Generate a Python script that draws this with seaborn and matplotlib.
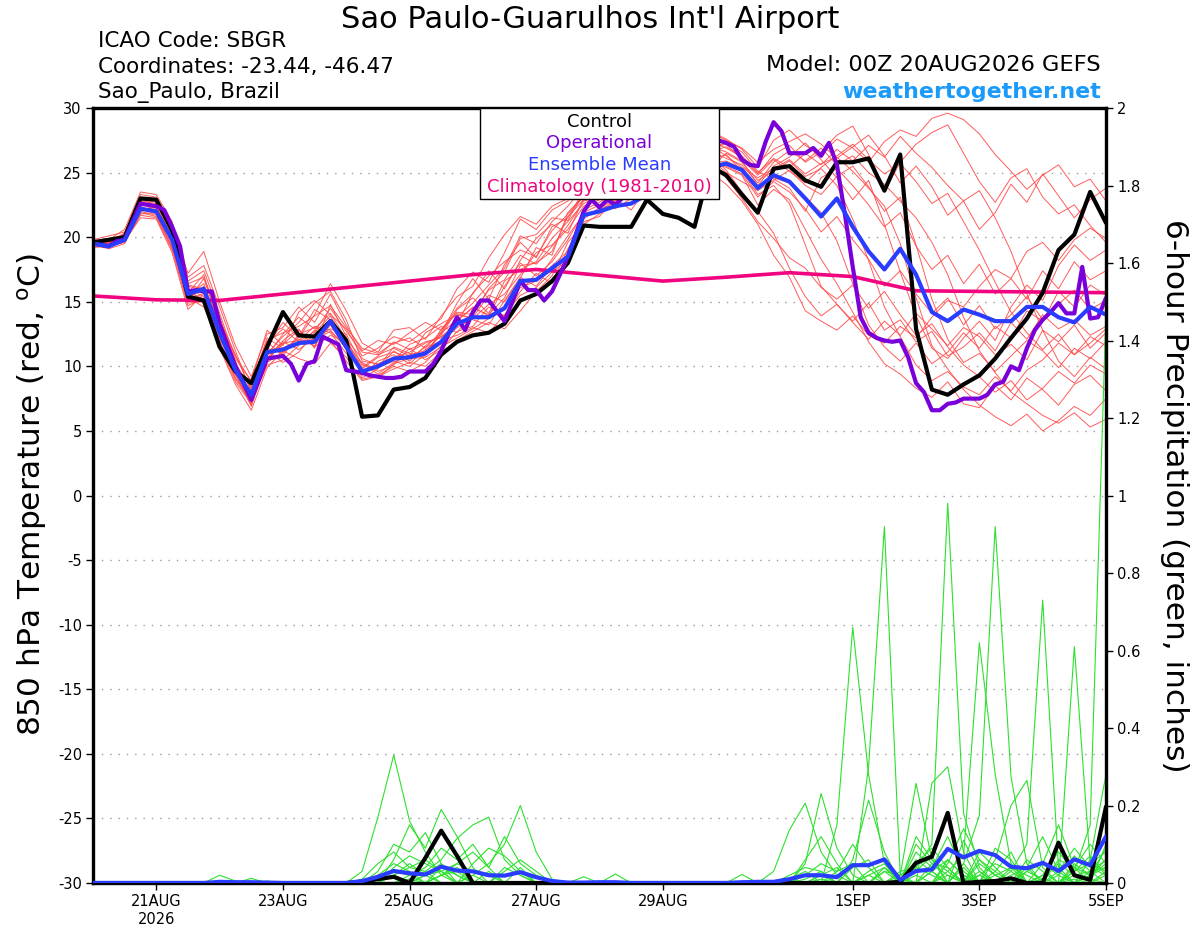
import numpy as np
import pandas as pd
import matplotlib
matplotlib.use("Agg")
import matplotlib.pyplot as plt
import seaborn as sns
from matplotlib.patches import Rectangle

# forecast hours from 00Z 20AUG2026
hours = list(range(0, 385, 6))
op_hours = list(range(0, 385, 3))
clim_hours = list(range(0, 385, 24))

tick_hours = [24, 72, 120, 168, 216, 288, 336, 384]
tick_labels = ["21AUG\n2026", "23AUG", "25AUG", "27AUG", "29AUG", "1SEP", "3SEP", "5SEP"]
precip_ticks = [0, 0.2, 0.4, 0.6, 0.8, 1.0, 1.2, 1.4, 1.6, 1.8, 2.0]
precip_labels = ["0", "0.2", "0.4", "0.6", "0.8", "1", "1.2", "1.4", "1.6", "1.8", "2"]

# ---- 850 hPa temperature (C) ----
control_t = [19.6, 19.8, 20.0, 23.0, 22.9, 20.5, 15.4, 15.1, 11.5, 9.6, 8.7, 11.5, 14.2, 12.4, 12.3, 13.5,
             12.0, 6.1, 6.2, 8.2, 8.4, 9.1, 10.9, 11.9, 12.4, 12.6, 13.3, 15.1, 15.6, 16.6, 18.0, 20.9,
             20.8, 20.8, 20.8, 22.9, 21.8, 21.5, 20.8, 25.5, 24.8, 23.3, 21.9, 25.3, 25.5, 24.4, 23.9, 25.8,
             25.8, 26.1, 23.6, 26.4, 12.9, 8.2, 7.8, 8.6, 9.3, 10.6, 12.2, 13.7, 15.7, 19.0, 20.2, 23.5,
             21.1]

mean_t = [19.5, 19.3, 19.8, 22.2, 22.0, 19.8, 15.6, 16.0, 12.6, 9.7, 7.8, 11.1, 11.3, 11.8, 11.9, 13.5,
          11.5, 9.6, 10.0, 10.6, 10.7, 11.0, 11.9, 13.3, 13.8, 13.8, 14.5, 16.6, 16.7, 17.6, 18.5, 21.7,
          22.0, 22.4, 22.6, 23.3, 23.7, 24.2, 24.8, 25.4, 25.7, 25.2, 23.8, 24.8, 24.3, 23.0, 21.6, 23.0,
          20.8, 18.9, 17.5, 19.1, 17.1, 14.2, 13.5, 14.4, 14.0, 13.5, 13.5, 14.6, 14.6, 13.8, 13.4, 14.6,
          14.0]

# operational run is 3-hourly
oper_t = [19.5, 19.4, 19.3, 19.7, 19.8, 21.2, 22.6, 22.5,
          22.4, 22.1, 20.8, 19.3, 15.8, 15.9, 15.8, 15.8,
          13.3, 11.6, 10.0, 8.7, 7.4, 9.0, 10.6, 10.7,
          10.8, 10.2, 8.9, 10.2, 10.4, 12.3, 12.0, 11.7,
          9.7, 9.6, 9.5, 9.3, 9.2, 9.1, 9.1, 9.2,
          9.6, 9.6, 9.6, 10.2, 11.2, 12.6, 13.8, 12.8,
          14.2, 15.1, 15.1, 14.3, 13.5, 15.0, 16.6, 15.9,
          15.9, 15.1, 15.8, 17.1, 18.5, 20.2, 22.0, 22.9,
          22.3, 22.9, 22.5, 23.1, 23.5, 24.0, 24.5, 25.0,
          25.3, 25.6, 26.0, 26.3, 26.6, 27.0, 27.3, 27.5,
          27.3, 27.0, 26.0, 25.6, 25.5, 27.4, 28.9, 28.2,
          26.5, 26.5, 26.5, 26.9, 26.3, 27.3, 25.6, 21.8,
          17.7, 13.8, 12.6, 12.2, 12.0, 11.9, 12.0, 10.7,
          8.7, 8.0, 6.6, 6.6, 7.1, 7.2, 7.5, 7.5,
          7.5, 7.8, 8.6, 8.8, 10.0, 9.7, 11.4, 12.8,
          13.6, 14.2, 14.9, 14.1, 14.1, 17.7, 13.7, 13.8,
          15.3]

clim_t = [15.45, 15.15, 15.1, 15.6, 16.1, 16.6, 17.1, 17.5, 17.05, 16.6, 16.9, 17.25, 16.95, 15.85,
          15.8, 15.75, 15.7]

mem01_t = [19.3, 19.6, 20.1, 22.8, 22.6, 20.4, 15.1, 16.8, 13.2, 9.4, 7.0, 10.6, 12.0, 12.9, 11.4, 14.8,
           12.3, 9.1, 9.8, 11.2, 10.4, 11.6, 12.5, 14.9, 16.8, 15.2, 17.9, 19.6, 18.4, 20.8, 21.5, 23.6,
           24.2, 23.1, 24.8, 25.6, 26.1, 25.2, 26.8, 27.4, 26.9, 26.2, 24.9, 26.4, 27.1, 25.8, 26.6, 27.9,
           28.6, 26.4, 23.5, 25.8, 27.2, 28.1, 28.7, 26.5, 24.3, 22.7, 24.6, 25.3, 23.1, 21.8, 22.5, 20.9,
           19.6]
mem02_t = [19.6, 19.2, 19.9, 22.0, 21.7, 19.1, 15.8, 15.2, 12.1, 10.2, 8.3, 11.9, 10.8, 12.5, 13.0, 12.6,
           11.0, 10.3, 9.6, 10.1, 11.4, 10.5, 11.3, 12.7, 13.1, 14.6, 13.9, 15.8, 17.2, 16.4, 19.1, 21.2,
           21.6, 23.0, 22.1, 23.8, 24.5, 24.0, 25.3, 25.9, 26.4, 25.1, 23.3, 24.0, 22.6, 19.4, 16.2, 14.8,
           13.5, 14.9, 12.8, 13.6, 11.9, 12.7, 10.8, 11.5, 12.6, 11.2, 13.4, 12.1, 14.0, 12.9, 13.6, 12.4,
           13.1]
mem03_t = [19.4, 19.5, 20.3, 23.3, 23.1, 21.0, 16.6, 17.4, 14.1, 10.6, 8.9, 12.8, 11.6, 14.2, 15.1, 14.0,
           12.9, 10.8, 11.4, 12.3, 11.9, 12.8, 13.7, 16.0, 17.3, 16.5, 18.8, 21.4, 20.6, 22.1, 22.8, 24.5,
           24.9, 24.2, 25.7, 26.8, 27.2, 26.5, 27.9, 28.2, 27.6, 26.8, 25.4, 27.5, 28.3, 27.1, 26.4, 27.6,
           26.9, 25.8, 27.4, 28.3, 27.8, 29.2, 29.6, 29.1, 28.0, 26.4, 25.1, 23.7, 24.8, 25.6, 23.9, 24.5,
           22.8]
mem04_t = [19.7, 19.4, 19.6, 21.8, 21.9, 19.5, 15.3, 14.6, 11.8, 9.1, 7.4, 11.2, 10.3, 11.1, 12.6, 13.9,
           11.8, 9.3, 10.4, 10.9, 10.2, 11.3, 12.0, 12.4, 13.0, 12.6, 14.0, 15.5, 16.1, 17.3, 18.2, 21.4,
           22.3, 22.9, 23.4, 24.1, 24.9, 25.6, 26.2, 25.3, 26.5, 25.8, 24.4, 25.1, 25.9, 24.7, 25.3, 24.0,
           21.4, 18.2, 14.6, 12.3, 10.1, 8.9, 9.6, 8.4, 7.8, 9.2, 8.1, 9.7, 10.5, 11.8, 10.9, 12.3,
           11.6]
mem05_t = [19.5, 19.7, 20.0, 22.5, 22.3, 20.2, 16.2, 15.9, 13.6, 10.9, 8.1, 10.4, 11.9, 11.3, 12.2, 12.9,
           12.5, 10.1, 9.9, 11.5, 11.0, 10.8, 12.9, 14.1, 13.6, 13.2, 15.1, 16.9, 16.2, 17.8, 18.9, 22.1,
           22.7, 23.5, 22.9, 23.6, 24.2, 25.0, 25.8, 26.7, 26.1, 25.6, 24.2, 25.8, 26.7, 25.9, 26.9, 25.6,
           26.3, 25.0, 24.1, 22.8, 21.5, 19.6, 17.1, 13.8, 11.2, 9.5, 8.0, 7.1, 6.2, 5.6, 6.4, 5.3,
           5.9]
mem06_t = [19.2, 19.3, 19.7, 21.5, 21.4, 18.8, 14.4, 15.6, 11.4, 8.6, 6.6, 9.9, 11.2, 10.6, 10.2, 11.8,
           10.7, 9.0, 9.3, 10.0, 9.6, 10.3, 11.6, 13.8, 14.9, 16.3, 17.6, 20.1, 19.5, 21.2, 22.4, 23.9,
           23.8, 24.6, 24.0, 24.8, 25.5, 24.6, 25.1, 26.0, 25.4, 24.8, 22.5, 23.7, 22.9, 20.6, 18.3, 16.4,
           14.2, 11.9, 10.2, 9.4, 8.3, 7.6, 8.8, 7.1, 6.8, 8.5, 7.4, 9.1, 8.2, 7.0, 8.6, 9.3,
           8.1]
mem07_t = [19.8, 20.1, 20.4, 23.1, 22.8, 20.9, 17.2, 18.9, 15.0, 11.6, 9.2, 12.5, 13.0, 14.6, 13.4, 15.6,
           13.2, 11.2, 12.0, 11.7, 12.6, 13.4, 12.8, 14.5, 15.6, 17.4, 16.0, 18.2, 19.9, 21.0, 20.3, 23.0,
           23.4, 24.8, 23.6, 25.0, 25.9, 26.3, 25.7, 26.9, 27.3, 26.6, 25.1, 24.5, 23.8, 22.0, 24.6, 25.3,
           24.0, 22.5, 20.8, 21.9, 19.3, 17.5, 18.6, 16.4, 17.9, 15.6, 16.8, 15.2, 17.4, 16.0, 18.1, 16.7,
           17.4]
mem08_t = [19.4, 19.1, 19.5, 22.1, 22.4, 19.9, 15.5, 16.4, 12.9, 9.8, 8.6, 12.2, 11.4, 12.1, 11.6, 13.2,
           11.3, 9.8, 10.7, 11.1, 10.6, 11.5, 11.9, 13.0, 13.7, 14.8, 15.6, 17.1, 18.8, 19.4, 20.6, 22.4,
           22.9, 23.3, 23.9, 24.4, 25.0, 24.3, 25.5, 25.0, 24.1, 22.8, 21.0, 18.6, 16.9, 14.3, 13.5, 12.8,
           13.9, 12.4, 11.8, 13.1, 12.2, 13.8, 15.1, 14.6, 16.2, 17.5, 16.8, 18.9, 19.6, 18.2, 19.8, 20.7,
           19.9]
mem09_t = [19.6, 19.5, 20.2, 22.7, 22.0, 19.6, 16.0, 15.4, 12.4, 10.0, 7.7, 10.8, 12.5, 13.8, 12.9, 14.1,
           12.1, 10.6, 10.1, 10.5, 11.7, 12.2, 13.1, 12.6, 14.2, 15.9, 16.7, 18.6, 17.9, 19.3, 20.9, 22.8,
           23.1, 23.9, 24.5, 25.2, 24.7, 25.9, 26.6, 27.1, 26.3, 25.4, 24.6, 25.3, 26.0, 24.9, 25.7, 26.2,
           25.1, 23.8, 22.4, 19.5, 15.3, 11.6, 9.8, 8.2, 7.0, 6.1, 5.4, 6.3, 5.0, 5.8, 6.9, 6.2,
           7.5]
mem10_t = [19.3, 19.4, 19.8, 21.9, 21.6, 19.3, 14.9, 15.0, 11.9, 9.0, 7.2, 10.1, 10.5, 11.6, 12.8, 12.0,
           10.4, 8.9, 9.2, 9.8, 10.3, 10.0, 11.1, 12.0, 12.7, 13.4, 12.9, 14.3, 15.8, 17.0, 19.6, 21.0,
           21.8, 22.6, 23.3, 22.9, 23.6, 24.5, 25.1, 25.8, 25.5, 24.9, 23.1, 24.3, 23.5, 22.2, 20.4, 21.6,
           19.8, 18.3, 16.2, 17.4, 15.6, 14.1, 15.3, 13.2, 14.7, 12.9, 14.0, 15.4, 13.6, 14.8, 15.9, 14.4,
           15.1]
mem11_t = [19.5, 19.8, 20.6, 23.5, 23.3, 21.2, 16.9, 17.8, 14.6, 11.2, 8.0, 11.6, 13.4, 12.2, 14.0, 16.4,
           14.3, 11.8, 11.1, 12.8, 13.0, 12.1, 13.9, 15.4, 16.2, 18.4, 20.2, 21.6, 21.0, 22.4, 23.0, 24.2,
           24.6, 25.1, 25.9, 26.4, 26.0, 27.0, 27.6, 28.1, 27.5, 26.9, 25.8, 26.8, 27.4, 28.0, 27.2, 26.1,
           27.0, 27.9, 26.3, 24.2, 25.5, 23.9, 21.7, 22.8, 20.6, 21.9, 24.1, 22.7, 24.9, 23.2, 21.5, 22.9,
           23.8]
mem12_t = [19.7, 19.9, 20.0, 22.4, 22.5, 20.6, 16.4, 16.9, 13.8, 10.4, 7.6, 11.4, 11.0, 12.3, 14.4, 13.6,
           12.0, 9.9, 10.8, 11.9, 11.3, 11.9, 12.2, 13.5, 14.6, 13.9, 16.2, 18.0, 17.0, 18.1, 19.8, 21.9,
           22.5, 22.2, 23.0, 24.0, 24.7, 24.1, 25.0, 25.7, 25.9, 25.3, 23.8, 24.6, 24.2, 23.1, 21.9, 19.7,
           16.4, 13.2, 11.5, 10.4, 11.8, 10.2, 11.1, 12.6, 11.4, 13.1, 12.2, 14.3, 13.5, 15.8, 14.6, 16.3,
           15.5]
mem13_t = [19.4, 19.6, 19.9, 22.3, 22.1, 19.7, 15.9, 15.0, 12.7, 9.5, 6.9, 10.6, 11.7, 12.8, 11.5, 12.4,
           11.9, 10.2, 9.4, 10.3, 10.9, 11.2, 12.4, 14.4, 15.3, 14.1, 16.6, 17.5, 18.1, 19.9, 21.2, 22.6,
           23.2, 22.7, 24.2, 24.6, 25.3, 26.0, 25.6, 26.3, 25.2, 23.5, 22.0, 20.3, 17.6, 15.4, 13.9, 14.8,
           13.4, 12.1, 13.5, 12.4, 14.1, 12.9, 11.6, 13.0, 12.3, 10.9, 11.7, 10.5, 12.8, 11.9, 13.2, 11.4,
           12.6]
mem14_t = [19.6, 19.3, 19.7, 22.6, 22.2, 20.0, 15.2, 16.2, 12.3, 9.9, 8.4, 11.8, 12.9, 11.9, 12.7, 14.5,
           12.7, 11.1, 10.9, 11.4, 10.8, 12.6, 13.3, 14.0, 13.8, 15.5, 15.0, 16.8, 19.2, 18.6, 21.9, 23.2,
           24.0, 23.4, 24.9, 25.4, 25.8, 26.7, 26.0, 26.6, 27.0, 26.3, 25.0, 26.1, 25.4, 26.5, 25.6, 26.8,
           25.9, 27.1, 26.2, 27.8, 26.5, 25.4, 24.0, 22.8, 23.6, 21.5, 18.9, 15.6, 12.8, 10.4, 9.2, 10.7,
           9.8]
mem15_t = [19.5, 19.6, 20.2, 22.9, 22.7, 20.1, 15.7, 17.1, 13.0, 10.1, 7.9, 11.0, 12.3, 13.4, 14.9, 15.8,
           13.6, 10.4, 10.2, 10.7, 11.1, 11.8, 12.3, 13.2, 15.7, 17.0, 18.1, 19.0, 18.5, 20.5, 21.8, 23.1,
           23.6, 24.3, 25.2, 25.8, 26.4, 25.7, 26.4, 27.0, 26.6, 25.9, 24.0, 25.5, 26.2, 27.3, 26.0, 24.6,
           22.9, 24.4, 21.0, 17.3, 13.9, 11.4, 10.6, 12.2, 13.5, 12.0, 14.6, 16.3, 15.1, 17.8, 19.4, 18.2,
           19.0]
mem16_t = [19.3, 19.5, 19.9, 22.2, 21.8, 19.2, 15.0, 15.7, 12.0, 9.3, 7.3, 10.9, 11.8, 12.0, 13.1, 12.8,
           11.4, 9.7, 9.9, 10.4, 10.0, 10.9, 12.6, 13.6, 14.5, 14.0, 15.3, 17.8, 18.0, 18.9, 21.6, 22.9,
           23.5, 23.1, 24.3, 25.1, 24.8, 25.4, 26.5, 25.6, 24.6, 23.0, 21.2, 19.9, 18.4, 17.6, 16.1, 15.2,
           16.3, 14.5, 15.8, 14.0, 12.4, 13.3, 11.5, 10.1, 9.2, 8.0, 8.9, 7.4, 8.3, 9.6, 8.7, 10.1,
           9.4]
mem17_t = [19.8, 19.7, 20.3, 23.0, 22.4, 20.7, 16.3, 16.0, 13.4, 10.8, 8.8, 12.0, 12.6, 13.1, 13.9, 14.7,
           13.0, 11.4, 11.0, 11.8, 12.2, 11.4, 12.7, 14.2, 14.0, 16.0, 17.3, 19.9, 20.2, 21.5, 21.3, 23.4,
           23.9, 24.5, 24.1, 25.3, 26.6, 25.5, 26.2, 26.9, 27.2, 26.0, 24.8, 26.0, 25.1, 24.2, 25.4, 26.3,
           27.2, 26.0, 24.9, 25.7, 24.3, 22.6, 23.4, 21.2, 19.0, 16.5, 14.2, 12.6, 11.3, 12.5, 10.9, 11.8,
           12.9]
mem18_t = [19.4, 19.3, 19.6, 21.7, 21.5, 19.0, 14.7, 15.3, 11.6, 8.8, 7.1, 10.3, 11.1, 11.9, 12.1, 12.7,
           11.5, 9.5, 9.1, 10.2, 10.6, 10.7, 11.5, 12.2, 12.9, 13.7, 14.4, 16.1, 16.6, 18.3, 20.1, 21.8,
           22.1, 22.8, 23.7, 23.4, 24.0, 24.8, 25.4, 26.1, 25.0, 24.3, 23.6, 24.4, 25.2, 24.0, 23.3, 24.7,
           25.5, 23.9, 22.0, 23.1, 19.4, 15.2, 12.1, 10.3, 11.0, 9.6, 10.8, 12.0, 11.2, 9.9, 11.4, 10.6,
           11.9]

# ---- 6-hour precipitation (inches) ----
control_p = [0, 0, 0, 0, 0, 0, 0, 0, 0, 0, 0, 0, 0, 0, 0, 0,
             0, 0.003, 0.01, 0.016, 0, 0.065, 0.135, 0.07, 0, 0, 0, 0, 0, 0, 0, 0,
             0, 0, 0, 0, 0, 0, 0, 0, 0, 0, 0, 0, 0, 0, 0, 0,
             0, 0, 0, 0.003, 0.052, 0.068, 0.181, 0, 0.003, 0.005, 0.012, 0, 0, 0.104, 0.02, 0.008,
             0.197]
mean_p = [0, 0, 0, 0, 0, 0, 0, 0, 0.003, 0.002, 0.002, 0.001, 0, 0, 0, 0,
          0, 0.005, 0.016, 0.031, 0.025, 0.022, 0.042, 0.032, 0.03, 0.02, 0.019, 0.028, 0.015, 0.005, 0.001, 0.001,
          0.002, 0.002, 0, 0, 0, 0, 0, 0, 0, 0.002, 0.003, 0.003, 0.01, 0.02, 0.02, 0.015,
          0.046, 0.046, 0.061, 0.008, 0.031, 0.035, 0.088, 0.066, 0.083, 0.072, 0.042, 0.038, 0.052, 0.031, 0.061, 0.046,
          0.12]

mem01_p = [0, 0, 0, 0, 0, 0, 0, 0, 0.02, 0.005, 0, 0, 0, 0, 0, 0,
           0, 0.03, 0.17, 0.33, 0.16, 0.08, 0.02, 0, 0, 0, 0, 0, 0, 0, 0, 0,
           0, 0, 0, 0, 0, 0, 0, 0, 0, 0, 0, 0, 0.01, 0.03, 0, 0.15,
           0.66, 0.28, 0.05, 0.01, 0, 0.03, 0.06, 0.02, 0, 0, 0.04, 0.02, 0, 0, 0.03, 0.05,
           0.08]
mem02_p = [0, 0, 0, 0, 0, 0, 0, 0, 0, 0, 0.012, 0, 0, 0, 0, 0,
           0, 0, 0.03, 0.10, 0.08, 0.13, 0.05, 0.02, 0, 0, 0, 0, 0, 0, 0, 0,
           0, 0, 0, 0, 0, 0, 0, 0, 0, 0, 0, 0.03, 0.137, 0.206, 0.08, 0.02,
           0, 0.30, 0.92, 0.02, 0.05, 0.09, 0.04, 0, 0.06, 0.03, 0, 0, 0.02, 0.05, 0.02, 0.01,
           0]
mem03_p = [0, 0, 0, 0, 0, 0, 0, 0, 0, 0, 0, 0, 0, 0, 0, 0,
           0, 0, 0, 0.06, 0.15, 0.09, 0.19, 0.12, 0.04, 0, 0, 0, 0, 0, 0, 0,
           0, 0, 0, 0, 0, 0, 0, 0, 0, 0, 0, 0, 0, 0.05, 0.231, 0.09,
           0.02, 0, 0, 0, 0.04, 0.10, 0.98, 0.18, 0.04, 0, 0, 0.03, 0.01, 0, 0, 0.02,
           0.05]
mem04_p = [0, 0, 0, 0, 0, 0, 0, 0, 0, 0, 0, 0, 0, 0, 0, 0,
           0, 0.01, 0.05, 0.08, 0.04, 0.03, 0.06, 0.115, 0.15, 0.17, 0.06, 0.02, 0, 0, 0, 0,
           0, 0, 0, 0, 0, 0, 0, 0, 0, 0, 0, 0, 0, 0, 0, 0,
           0.06, 0.214, 0.08, 0, 0, 0, 0.03, 0.07, 0.62, 0.28, 0.05, 0, 0, 0.03, 0.09, 0.04,
           0.02]
mem05_p = [0, 0, 0, 0, 0, 0, 0, 0, 0, 0, 0, 0, 0, 0, 0, 0,
           0, 0, 0, 0, 0, 0, 0, 0, 0.02, 0.05, 0.10, 0.20, 0.08, 0.01, 0, 0,
           0, 0, 0, 0, 0, 0, 0, 0, 0, 0, 0, 0, 0, 0, 0, 0,
           0, 0, 0, 0.02, 0.257, 0.06, 0, 0.05, 0.175, 0.92, 0.274, 0.05, 0, 0, 0.02, 0.03,
           0.06]
mem06_p = [0, 0, 0, 0, 0, 0, 0, 0, 0, 0, 0, 0, 0, 0, 0, 0,
           0, 0, 0, 0.02, 0.04, 0.06, 0.03, 0.05, 0.03, 0.02, 0, 0, 0, 0, 0, 0.016,
           0, 0, 0, 0, 0, 0, 0, 0, 0, 0, 0, 0, 0, 0, 0.02, 0.04,
           0, 0, 0, 0, 0, 0.258, 0.30, 0.08, 0, 0, 0.03, 0.10, 0.73, 0.04, 0, 0.06,
           0.28]
mem07_p = [0, 0, 0, 0, 0, 0, 0, 0, 0, 0.004, 0, 0, 0, 0, 0, 0,
           0, 0, 0, 0, 0.02, 0.04, 0.09, 0.06, 0.10, 0.04, 0.12, 0.05, 0.02, 0, 0, 0,
           0, 0, 0, 0, 0, 0, 0, 0, 0, 0, 0, 0, 0.02, 0.04, 0.03, 0,
           0, 0, 0, 0, 0.03, 0.07, 0, 0, 0, 0.06, 0.2, 0.265, 0.04, 0, 0.61, 0.05,
           0.03]
mem08_p = [0, 0, 0, 0, 0, 0, 0, 0, 0, 0, 0, 0, 0, 0, 0, 0,
           0, 0, 0.02, 0.05, 0.03, 0, 0.02, 0.04, 0, 0, 0.03, 0.06, 0.03, 0, 0, 0,
           0, 0.023, 0, 0, 0, 0, 0, 0, 0, 0, 0, 0, 0, 0, 0, 0,
           0, 0, 0.04, 0.01, 0, 0, 0, 0.11, 0.03, 0, 0, 0, 0, 0, 0.03, 0.15,
           1.48]
mem09_p = [0, 0, 0, 0, 0, 0, 0, 0, 0, 0, 0, 0, 0, 0, 0, 0,
           0, 0, 0, 0, 0, 0, 0, 0, 0, 0, 0, 0, 0, 0, 0, 0,
           0, 0, 0, 0, 0, 0, 0, 0, 0, 0.022, 0, 0, 0, 0, 0.02, 0,
           0.04, 0.06, 0, 0, 0.08, 0.04, 0.12, 0.03, 0, 0.09, 0.06, 0, 0, 0.06, 0.04, 0.10,
           0.05]
mem10_p = [0, 0, 0, 0, 0, 0, 0, 0, 0, 0, 0, 0, 0, 0, 0, 0,
           0, 0, 0, 0, 0, 0.02, 0.03, 0, 0.05, 0.09, 0.07, 0.03, 0, 0, 0, 0,
           0, 0, 0, 0, 0, 0, 0, 0, 0, 0, 0, 0, 0, 0, 0, 0.03,
           0.05, 0, 0, 0.03, 0.04, 0.02, 0, 0, 0.08, 0.04, 0, 0.06, 0.03, 0, 0, 0,
           0.02]
mem11_p = [0, 0, 0, 0, 0, 0, 0, 0, 0, 0, 0, 0, 0, 0, 0, 0,
           0, 0, 0.01, 0.03, 0.02, 0, 0.04, 0.02, 0, 0, 0, 0, 0, 0, 0, 0,
           0, 0, 0, 0, 0, 0, 0, 0, 0, 0, 0, 0, 0, 0.01, 0.03, 0,
           0, 0, 0.03, 0.02, 0, 0.05, 0.04, 0, 0.05, 0.02, 0.04, 0, 0.02, 0.08, 0.03, 0.07,
           0.02]
mem12_p = [0, 0, 0, 0, 0, 0, 0, 0, 0.006, 0, 0, 0.005, 0, 0, 0, 0,
           0, 0, 0, 0.02, 0, 0.02, 0.05, 0, 0.02, 0, 0, 0, 0, 0, 0, 0,
           0, 0, 0, 0, 0, 0, 0, 0, 0, 0, 0, 0, 0, 0, 0, 0,
           0, 0.02, 0.04, 0, 0.02, 0, 0.06, 0.02, 0, 0, 0.02, 0.04, 0, 0, 0.05, 0.02,
           0.09]
mem13_p = [0, 0, 0, 0, 0, 0, 0, 0, 0, 0, 0, 0, 0, 0, 0, 0,
           0, 0, 0, 0, 0.01, 0, 0.02, 0.03, 0, 0.03, 0, 0.04, 0, 0, 0, 0,
           0, 0, 0, 0, 0, 0, 0, 0, 0, 0, 0, 0, 0.01, 0, 0, 0,
           0, 0.02, 0, 0, 0, 0.03, 0, 0.04, 0, 0.02, 0, 0, 0.05, 0.02, 0, 0.03,
           0]
mem14_p = [0, 0, 0, 0, 0, 0, 0, 0, 0, 0, 0, 0, 0, 0, 0, 0,
           0, 0, 0, 0, 0, 0, 0, 0, 0, 0, 0, 0, 0, 0, 0, 0,
           0, 0, 0, 0, 0, 0, 0, 0, 0, 0, 0.005, 0, 0, 0, 0.01, 0,
           0, 0, 0, 0.01, 0, 0, 0.02, 0, 0.02, 0, 0.01, 0, 0.01, 0, 0.01, 0,
           0.03]
mem15_p = [0, 0, 0, 0, 0, 0, 0, 0, 0, 0, 0, 0, 0, 0, 0, 0,
           0, 0, 0, 0.04, 0.07, 0.05, 0.03, 0, 0, 0, 0, 0, 0, 0, 0, 0,
           0, 0, 0, 0, 0, 0, 0, 0, 0, 0, 0, 0, 0, 0.06, 0.12, 0.05,
           0, 0, 0.03, 0, 0.10, 0.05, 0.02, 0, 0.03, 0, 0, 0.04, 0.12, 0.03, 0, 0.02,
           0.04]
mem16_p = [0, 0, 0, 0, 0, 0, 0, 0, 0, 0, 0, 0, 0, 0, 0, 0,
           0, 0, 0.01, 0.02, 0.05, 0.02, 0, 0, 0, 0, 0.04, 0.02, 0, 0, 0, 0,
           0, 0, 0, 0, 0, 0, 0, 0, 0, 0, 0, 0, 0, 0.02, 0.05, 0.03,
           0.10, 0.04, 0, 0, 0.06, 0.03, 0, 0.05, 0, 0.03, 0.08, 0, 0, 0, 0.04, 0.02,
           0.06]
mem17_p = [0, 0, 0, 0, 0, 0, 0, 0, 0, 0, 0, 0, 0, 0, 0, 0,
           0, 0, 0, 0, 0, 0, 0.02, 0.05, 0.08, 0.04, 0, 0, 0, 0, 0, 0,
           0, 0, 0, 0, 0, 0, 0, 0, 0, 0, 0, 0, 0, 0, 0, 0,
           0, 0, 0, 0, 0, 0, 0.05, 0.14, 0.06, 0.02, 0, 0.03, 0.05, 0.15, 0.04, 0,
           0.10]
mem18_p = [0, 0, 0, 0, 0, 0, 0, 0, 0, 0, 0, 0, 0, 0, 0, 0,
           0, 0, 0, 0, 0.01, 0.03, 0, 0, 0, 0, 0, 0, 0, 0, 0, 0,
           0, 0, 0, 0, 0, 0, 0, 0, 0, 0, 0, 0, 0, 0, 0, 0,
           0, 0.03, 0.05, 0, 0.12, 0.06, 0.03, 0, 0.02, 0.05, 0.03, 0, 0, 0.02, 0.07, 0.03,
           0.04]

members_t = [mem01_t, mem02_t, mem03_t, mem04_t, mem05_t, mem06_t, mem07_t, mem08_t, mem09_t,
             mem10_t, mem11_t, mem12_t, mem13_t, mem14_t, mem15_t, mem16_t, mem17_t, mem18_t]
members_p = [mem01_p, mem02_p, mem03_p, mem04_p, mem05_p, mem06_p, mem07_p, mem08_p, mem09_p,
             mem10_p, mem11_p, mem12_p, mem13_p, mem14_p, mem15_p, mem16_p, mem17_p, mem18_p]

for row in members_t + members_p + [control_t, mean_t, control_p, mean_p]:
    assert len(row) == len(hours), len(row)
assert len(oper_t) == len(op_hours)

# long-form tables for the spaghetti lines
ens_t = pd.DataFrame([(m, h, v) for m, row in enumerate(members_t) for h, v in zip(hours, row)],
                     columns=["member", "hour", "temp"])
ens_p = pd.DataFrame([(m, h, v) for m, row in enumerate(members_p) for h, v in zip(hours, row)],
                     columns=["member", "hour", "precip"])

# colours
c_red = "#ff4a4a"
c_green = "#2ee02e"
c_purple = "#7a00d9"
c_blue = "#2a3cff"
c_pink = "#f0047f"
c_site = "#1a9bfc"

sns.set_style("ticks")
plt.rcParams["font.family"] = ["DejaVu Sans"]
plt.rcParams["axes.unicode_minus"] = False
plt.rcParams["text.color"] = "black"
plt.rcParams["xtick.color"] = "black"
plt.rcParams["ytick.color"] = "black"

fig = plt.figure(figsize=(12, 9.27), dpi=100)
ax = fig.add_axes([93 / 1200, 44 / 927, 1013 / 1200, 775 / 927])
ax2 = ax.twinx()

# temperature
sns.lineplot(data=ens_t, x="hour", y="temp", units="member", estimator=None,
             color=c_red, lw=0.7, alpha=0.9, ax=ax, legend=False, zorder=2)
sns.lineplot(x=clim_hours, y=clim_t, color=c_pink, lw=2.6, ax=ax, zorder=3)
sns.lineplot(x=hours, y=control_t, color="black", lw=3, ax=ax, zorder=4)
sns.lineplot(x=op_hours, y=oper_t, color=c_purple, lw=3, ax=ax, zorder=5)
sns.lineplot(x=hours, y=mean_t, color=c_blue, lw=3, ax=ax, zorder=6)

# precipitation
sns.lineplot(data=ens_p, x="hour", y="precip", units="member", estimator=None,
             color=c_green, lw=0.8, ax=ax2, legend=False, zorder=2)
sns.lineplot(x=hours, y=control_p, color="black", lw=3, ax=ax2, zorder=4)
sns.lineplot(x=hours, y=mean_p, color=c_blue, lw=3, ax=ax2, zorder=5)

ax.set_xlim(0, 384)
ax.set_ylim(-30, 30)
ax2.set_ylim(0, 2)
ax.set_xlabel("")
ax.set_ylabel("")
ax2.set_ylabel("")

ax.set_xticks(tick_hours)
ax.set_xticklabels(tick_labels, fontsize=10.5)
ax.set_yticks(range(-30, 31, 5))
ax.tick_params(axis="y", labelsize=10.5, length=5, width=1, pad=3)
ax.tick_params(axis="x", length=5, width=1, pad=3)
ax2.set_yticks(precip_ticks)
ax2.set_yticklabels(precip_labels)
ax2.tick_params(axis="y", labelsize=10.5, length=5, width=1, pad=3)

ax.yaxis.grid(True, color="#9a9a9a", ls=(0, (1, 5)), lw=1.0)
ax.set_axisbelow(True)

for a in (ax, ax2):
    for sp in a.spines.values():
        sp.set_linewidth(2.3)
        sp.set_color("black")

# header text
fig.text(590 / 1200, 1 - 28.3 / 927, "Sao Paulo-Guarulhos Int'l Airport", ha="center",
         va="baseline", fontsize=22)
fig.text(98 / 1200, 1 - 46.7 / 927, "ICAO Code: SBGR", ha="left", va="baseline", fontsize=15.5)
fig.text(98 / 1200, 1 - 72.7 / 927, "Coordinates: -23.44, -46.47", ha="left", va="baseline", fontsize=15.5)
fig.text(98 / 1200, 1 - 98.3 / 927, "Sao_Paulo, Brazil", ha="left", va="baseline", fontsize=15.5)
fig.text(1101 / 1200, 1 - 71 / 927, "Model: 00Z 20AUG2026 GEFS", ha="right", va="baseline", fontsize=16.2)
fig.text(1101 / 1200, 1 - 98.3 / 927, "weathertogether.net", ha="right", va="baseline",
         fontsize=15.9, fontweight="bold", color=c_site)

# axis titles
fig.text(32 / 1200, 1 - 495 / 927, "850 hPa Temperature (red, $^\\mathrm{o}$C)", rotation=90,
         ha="center", va="center", fontsize=22.5)
fig.text(1175 / 1200, 1 - 496 / 927, "6-hour Precipitation (green, inches)", rotation=270,
         ha="center", va="center", fontsize=22.5)

# legend box
fig.add_artist(Rectangle((480 / 1200, 1 - 199 / 927), 239 / 1200, 91 / 927, transform=fig.transFigure,
                         facecolor="white", edgecolor="black", lw=1.0, zorder=10))
legend_rows = [("Control", "black", 126.7), ("Operational", c_purple, 148.3),
               ("Ensemble Mean", c_blue, 170), ("Climatology (1981-2010)", c_pink, 191.7)]
for label, col, base in legend_rows:
    fig.text(599.5 / 1200, 1 - base / 927, label, color=col, ha="center", va="baseline",
             fontsize=13, zorder=11)

fig.savefig("out.png", dpi=100)
